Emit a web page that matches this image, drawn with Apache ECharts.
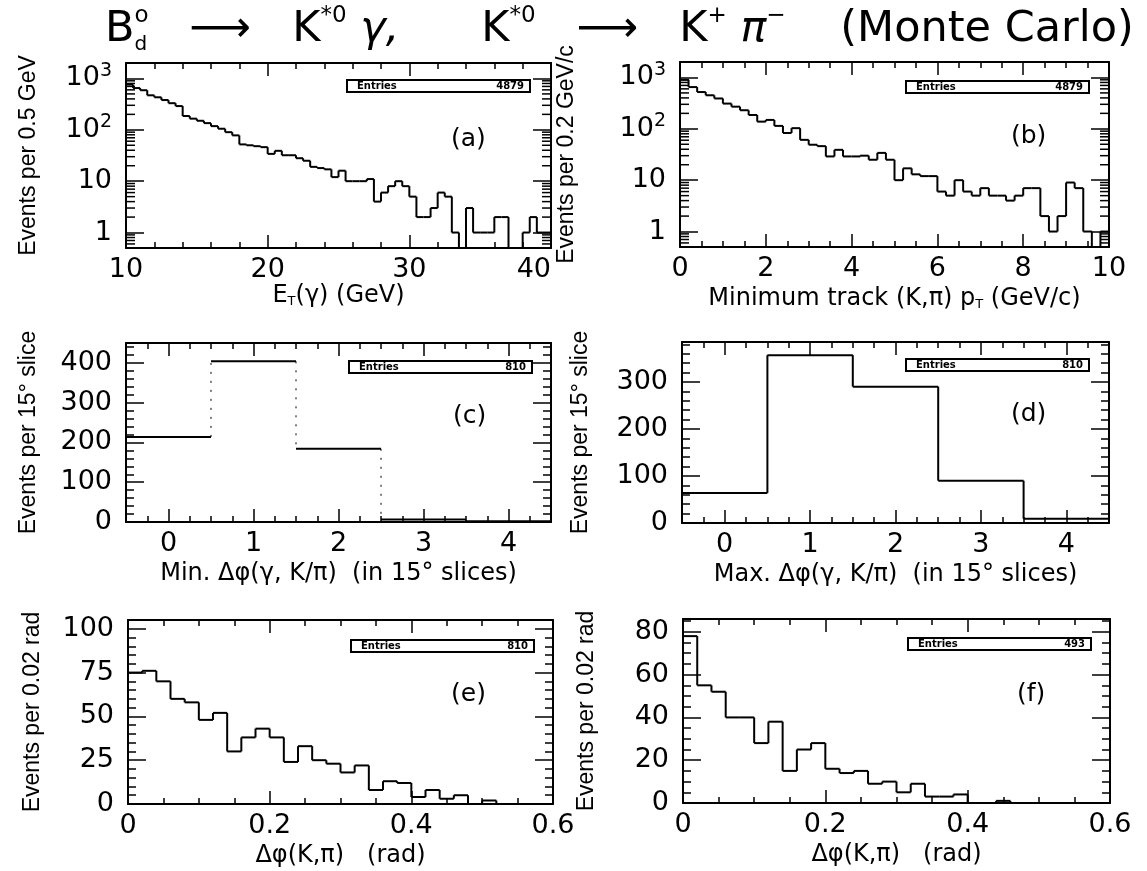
<!DOCTYPE html>
<html>
<head>
<meta charset="utf-8">
<script src="https://cdn.jsdelivr.net/npm/echarts@6/dist/echarts.min.js"></script>
<style>
  html, body { margin: 0; background: #fff; }
  #chart { width: 1147px; height: 871px; }
</style>
</head>
<body>
<div id="chart"></div>
<script>
// (a) E_T(gamma), 10..40 GeV, bins of 0.5 GeV
const etStart = 10, etWidth = 0.5;
const etCounts = [760, 650, 590, 470, 430, 380, 330, 290, 186, 165, 150, 135, 118, 105, 90, 78, 52, 50, 48, 46,
  34, 39, 32, 32, 28, 25, 19, 18, 17, 12, 16, 10, 10, 10, 11, 4, 6, 8, 10, 8,
  5, 2, 2, 3, 6, 5, 1, 0, 3, 1, 1, 1, 2, 2, 0, 0, 1, 2, 1, 1];

// (b) minimum track pT, 0..10 GeV/c, bins of 0.2 GeV/c
const ptStart = 0, ptWidth = 0.2;
const ptCounts = [900, 650, 520, 450, 390, 310, 270, 230, 186, 138, 149, 114, 83, 103, 61, 49, 46, 29, 39, 29,
  29, 30, 25, 34, 25, 10, 17, 13, 12, 12, 6, 5, 10, 6, 5, 7, 5, 5, 4, 5,
  7, 7, 2, 1, 2, 9, 7, 1, 0, 1];

// (c),(d) 15 degree slices
const sliceStart = -0.5, sliceWidth = 1;
const minDphiCounts = [214, 404, 184, 6, 2];
const maxDphiCounts = [64, 357, 290, 90, 9];

// (e),(f) delta phi(K,pi), bins of 0.02 rad
const dphiStart = 0, dphiWidth = 0.02;
const dphiCountsE = [75, 76, 70, 60, 58, 48, 52, 30, 38, 43, 38, 24, 33, 25, 23, 18, 22, 8, 13, 12,
  4, 8, 3, 5, 0, 2, 0, 0, 0, 0];
const dphiCountsF = [78, 55, 52, 40, 40, 28, 38, 15, 25, 28, 16, 14, 15, 9, 10, 5, 9, 3, 3, 4,
  0, 0, 1, 0, 0, 0, 0, 0, 0, 0];

const entries = ['4879', '4879', '810', '810', '810', '493'];
const panelTags = ['(a)', '(b)', '(c)', '(d)', '(e)', '(f)'];

// log axis range and its 2..9 minor tick mantissas
const LOG_MIN = 0.5, LOG_MAX = 2000;
const logMantissas = [2, 3, 4, 5, 6, 7, 8, 9];
const logDecades = [0.1, 1, 10, 100, 1000];

const FONT = "'DejaVu Sans', sans-serif";
const NARROW = "'Liberation Sans', Arial, sans-serif";

const chart = echarts.init(document.getElementById('chart'), null, { renderer: 'canvas' });

const grids = [
  { left: 126, top: 63, width: 425, height: 185 },
  { left: 680, top: 62, width: 429, height: 185 },
  { left: 126, top: 343, width: 425, height: 179 },
  { left: 682, top: 342, width: 427, height: 181 },
  { left: 128, top: 620, width: 425, height: 184 },
  { left: 683, top: 619, width: 427, height: 184 }
];

// histogram bins -> [left edge, right edge, value, previous value]
function binData(counts, start, width, floor) {
  return counts.map((c, i) => [
    start + i * width,
    start + (i + 1) * width,
    Math.max(c, floor),
    Math.max(i ? counts[i - 1] : floor, floor)
  ]);
}

function histRender(dashed) {
  return function (params, api) {
    const x0 = api.value(0), x1 = api.value(1), v = api.value(2), pv = api.value(3);
    const a = api.coord([x0, pv]), b = api.coord([x0, v]), c = api.coord([x1, v]);
    return {
      type: 'group',
      children: [
        { type: 'line', shape: { x1: a[0], y1: a[1], x2: b[0], y2: b[1] },
          style: { stroke: '#000', lineWidth: dashed ? 1 : 2, lineDash: dashed ? [2, 7] : null } },
        { type: 'line', shape: { x1: b[0], y1: b[1], x2: c[0], y2: c[1] },
          style: { stroke: '#000', lineWidth: 2 } }
      ]
    };
  };
}

// minor ticks of a log axis (2..9 per decade), on both sides of the frame
function logTickRender(params, api) {
  const cs = params.coordSys;
  const y = api.coord([api.value(0), api.value(1)])[1];
  const st = { stroke: '#000', lineWidth: 1.5 };
  return {
    type: 'group',
    children: [
      { type: 'line', shape: { x1: cs.x, y1: y, x2: cs.x + 9, y2: y }, style: st },
      { type: 'line', shape: { x1: cs.x + cs.width, y1: y, x2: cs.x + cs.width - 9, y2: y }, style: st }
    ]
  };
}
function logMinorData(xRef) {
  const out = [];
  logDecades.forEach(d => logMantissas.forEach(m => {
    const v = m * d;
    if (v > LOG_MIN && v < LOG_MAX) out.push([xRef, v]);
  }));
  return out;
}

const tickStyle = { color: '#000', width: 1.5 };

function xAxes(g, o) {
  const base = {
    gridIndex: g, type: 'value', min: o.min, max: o.max,
    interval: o.interval, splitNumber: o.split,
    axisLine: { onZero: false, lineStyle: { color: '#000', width: 2 } },
    axisTick: { inside: true, length: 13, lineStyle: tickStyle },
    minorTick: { show: true, splitNumber: o.minor, length: 6, lineStyle: tickStyle },
    splitLine: { show: false }
  };
  return [
    Object.assign({}, base, {
      position: 'bottom',
      axisLabel: { color: '#000', fontFamily: FONT, fontSize: 27, margin: 8, formatter: o.fmt,
        showMinLabel: true, showMaxLabel: true, alignMaxLabel: o.alignMax },
      name: o.name, nameLocation: 'middle', nameGap: o.gap,
      nameTextStyle: { color: '#000', fontFamily: FONT, fontSize: 24,
        rich: { n: { fontFamily: FONT, fontSize: 24, color: '#000' },
                t: { fontFamily: FONT, fontSize: 13, color: '#000', verticalAlign: 'bottom', padding: [10, 0, 0, 0] } } }
    }),
    Object.assign({}, base, { position: 'top', axisLabel: { show: false } })
  ];
}

function yAxes(g, o) {
  const isLog = o.type === 'log';
  const base = {
    gridIndex: g, type: isLog ? 'log' : 'value', logBase: 10, min: o.min, max: o.max,
    interval: o.interval,
    axisLine: { onZero: false, lineStyle: { color: '#000', width: 2 } },
    axisTick: { inside: true, length: 18, lineStyle: tickStyle },
    minorTick: { show: !isLog, splitNumber: o.minor, length: 8, lineStyle: tickStyle },
    splitLine: { show: false }
  };
  return [
    Object.assign({}, base, {
      position: 'left',
      axisLabel: { color: '#000', fontFamily: FONT, fontSize: 27, margin: 14, formatter: o.fmt,
        rich: { b: { fontFamily: FONT, fontSize: 27, color: '#000', lineHeight: 34 },
                s: { fontFamily: FONT, fontSize: 19, color: '#000', verticalAlign: 'top', lineHeight: 34 } } },
      name: o.name, nameLocation: 'middle', nameGap: o.gap, nameRotate: 90,
      nameTextStyle: { color: '#000', fontFamily: NARROW, fontSize: 23 }
    }),
    Object.assign({}, base, { position: 'right', axisLabel: { show: false } })
  ];
}

function logFmt(v) {
  const e = Math.log10(v), r = Math.round(e);
  if (Math.abs(e - r) > 1e-6 || r < 0) return '';
  if (r === 0) return '1';
  if (r === 1) return '10';
  return '{b|10}{s|' + r + '}';
}
const intFmt = v => (Math.abs(v - Math.round(v)) < 1e-9 ? String(Math.round(v)) : '');
const stepFmt = step => v => (Math.abs(v / step - Math.round(v / step)) < 1e-6 ? String(Math.round(v)) : '');
const radFmt = v => (v === 0 ? '0' : v.toFixed(1));

const xAxis = [].concat(
  xAxes(0, { min: 10, max: 40, interval: 10, minor: 5, fmt: intFmt, gap: 36, alignMax: 'right',
    name: '{n|E}{t|T}{n|(γ) (GeV)}' }),
  xAxes(1, { min: 0, max: 10, interval: 2, minor: 4, fmt: intFmt, gap: 40,
    name: '{n|Minimum track (K,π) p}{t|T}{n| (GeV/c)}' }),
  xAxes(2, { min: -0.5, max: 4.5, split: 5, minor: 4, fmt: intFmt, gap: 40,
    name: '{n|Min. Δφ(γ, K/π)  (in 15° slices)}' }),
  xAxes(3, { min: -0.5, max: 4.5, split: 5, minor: 4, fmt: intFmt, gap: 40,
    name: '{n|Max. Δφ(γ, K/π)  (in 15° slices)}' }),
  xAxes(4, { min: 0, max: 0.6, interval: 0.2, minor: 4, fmt: radFmt, gap: 40,
    name: '{n|Δφ(K,π)   (rad)}' }),
  xAxes(5, { min: 0, max: 0.6, interval: 0.2, minor: 4, fmt: radFmt, gap: 40,
    name: '{n|Δφ(K,π)   (rad)}' })
);

const yAxis = [].concat(
  yAxes(0, { type: 'log', min: LOG_MIN, max: LOG_MAX, fmt: logFmt, gap: 86, name: 'Events per 0.5 GeV' }),
  yAxes(1, { type: 'log', min: LOG_MIN, max: LOG_MAX, fmt: logFmt, gap: 102, name: 'Events per 0.2 GeV/c' }),
  yAxes(2, { min: 0, max: 450, interval: 100, minor: 5, fmt: stepFmt(100), gap: 86, name: 'Events per 15° slice' }),
  yAxes(3, { min: 0, max: 385, interval: 100, minor: 5, fmt: stepFmt(100), gap: 90, name: 'Events per 15° slice' }),
  yAxes(4, { min: 0, max: 105, interval: 25, minor: 5, fmt: stepFmt(25), gap: 84, name: 'Events per 0.02 rad' }),
  yAxes(5, { min: 0, max: 86, interval: 20, minor: 4, fmt: stepFmt(20), gap: 85, name: 'Events per 0.02 rad' })
);

const panels = [
  { counts: etCounts, start: etStart, width: etWidth, floor: LOG_MIN },
  { counts: ptCounts, start: ptStart, width: ptWidth, floor: LOG_MIN },
  { counts: minDphiCounts, start: sliceStart, width: sliceWidth, floor: 0, dashed: true },
  { counts: maxDphiCounts, start: sliceStart, width: sliceWidth, floor: 0 },
  { counts: dphiCountsE, start: dphiStart, width: dphiWidth, floor: 0 },
  { counts: dphiCountsF, start: dphiStart, width: dphiWidth, floor: 0 }
];

const series = panels.map((p, g) => ({
  type: 'custom',
  xAxisIndex: 2 * g, yAxisIndex: 2 * g,
  clip: true,
  encode: { x: [0, 1], y: 2 },
  renderItem: histRender(!!p.dashed),
  data: binData(p.counts, p.start, p.width, p.floor)
})).concat([
  { type: 'custom', xAxisIndex: 0, yAxisIndex: 0, silent: true, encode: { x: 0, y: 1 },
    renderItem: logTickRender, data: logMinorData(etStart + 1) },
  { type: 'custom', xAxisIndex: 2, yAxisIndex: 2, silent: true, encode: { x: 0, y: 1 },
    renderItem: logTickRender, data: logMinorData(ptStart + 1) }
]);

// panel tags and Entries boxes
const tagPos = [[446, 122], [1006, 119], [448, 399], [1006, 397], [446, 677], [1012, 677]];
const boxPos = [[346, 79], [905, 80], [348, 360], [905, 358], [350, 639], [907, 637]];
const BOX_W = 183, BOX_H = 12;

const titles = [{
  text: '{m|B}{sd|d}{su|o}{m|   ⟶   K}{su|*0}{g| γ,}{m|      K}{su|*0}{m|   ⟶   K}{su|+}{g| π}{su|−}{m|    (Monte Carlo)}',
  left: 100, top: 0,
  textStyle: {
    fontWeight: 'normal',
    rich: {
      m: { fontFamily: FONT, fontSize: 43, fontWeight: 'normal', color: '#000', lineHeight: 50 },
      g: { fontFamily: FONT, fontSize: 43, fontWeight: 'normal', color: '#000', fontStyle: 'italic', lineHeight: 50 },
      su: { fontFamily: FONT, fontSize: 23, fontWeight: 'normal', color: '#000', verticalAlign: 'top', lineHeight: 50 },
      sd: { fontFamily: FONT, fontSize: 20, fontWeight: 'normal', color: '#000', verticalAlign: 'bottom', lineHeight: 44, width: 0.01 }
    }
  }
}].concat(panelTags.map((t, i) => ({
  text: t, left: tagPos[i][0], top: tagPos[i][1],
  textStyle: { fontFamily: FONT, fontSize: 25, fontWeight: 'normal', color: '#000' }
})));

const graphic = boxPos.map((p, i) => ({
  type: 'group', left: p[0], top: p[1],
  children: [
    { type: 'rect', shape: { x: 0, y: 0, width: BOX_W, height: BOX_H },
      style: { fill: '#fff', stroke: '#000', lineWidth: 2 } },
    { type: 'text', x: 10, y: BOX_H / 2,
      style: { text: 'Entries', font: 'bold 10px ' + FONT, fill: '#000', textVerticalAlign: 'middle' } },
    { type: 'text', x: BOX_W - 6, y: BOX_H / 2,
      style: { text: entries[i], font: 'bold 10px ' + FONT, fill: '#000', textAlign: 'right', textVerticalAlign: 'middle' } }
  ]
}));

chart.setOption({
  animation: false,
  backgroundColor: '#fff',
  title: titles,
  grid: grids,
  xAxis: xAxis,
  yAxis: yAxis,
  series: series,
  graphic: graphic
});
</script>
</body>
</html>
